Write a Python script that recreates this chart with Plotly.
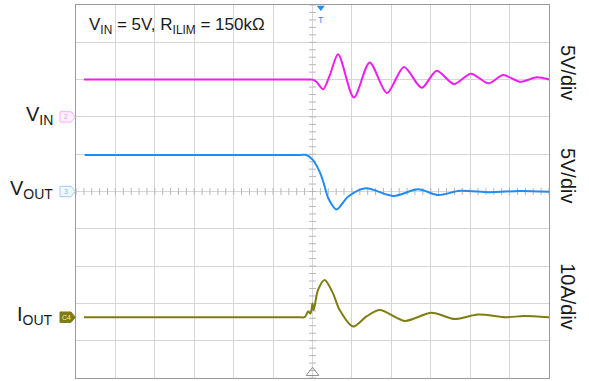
import plotly.graph_objects as go

# ---- data (time in divisions, values in physical units) ----
vin_t = [-5.80, -4.0, -2.0, -0.5, -0.2, 0.00, 0.10, 0.27, 0.44, 0.65, 1.05, 1.45, 1.89, 2.32, 2.77, 3.15, 3.59, 4.02, 4.46, 4.84, 5.26, 5.69, 6.00]
vin_v = [5.0, 5.0, 5.0, 5.0, 5.0, 5.0, 4.7, 3.7, 5.6, 8.4, 2.6, 7.3, 3.2, 6.7, 3.9, 6.2, 4.4, 5.8, 4.5, 5.6, 4.7, 5.3, 5.0]

vout_t = [-5.78, -4.0, -2.0, -0.6, -0.3, -0.15, 0.015, 0.14, 0.23, 0.31, 0.40, 0.61, 0.90, 1.35, 2.06, 2.68, 3.19, 3.74, 4.50, 5.26, 6.00]
vout_v = [4.9, 4.9, 4.9, 4.9, 4.9, 4.9, 4.2, 3.1, 2.0, 0.64, -0.9, -2.4, -0.7, 0.43, -0.6, 0.3, -0.47, 0.1, -0.1, 0.07, -0.05]

iout_t = [-5.80, -4.0, -2.0, -0.6, -0.35, -0.20, -0.11, -0.05, 0.00, 0.03, 0.14, 0.31, 0.52, 0.69, 1.03, 1.37, 1.71, 2.34, 3.02, 3.61, 4.20, 4.92, 5.35, 6.00]
iout_a = [0.0, 0.0, 0.0, 0.0, 0.0, 0.0, 1.5, 1.0, 3.7, 1.9, 7.3, 10.0, 6.4, 1.9, -2.5, 0.2, 1.9, -1.0, 1.2, -0.5, 0.7, 0.0, 0.3, 0.0]

# channel settings: (offset in div, units per div)
vin_off, vin_scale = 2.0, 5.0
vout_off, vout_scale = 0.0, 5.0
iout_off, iout_scale = -3.37, 10.0

MAG = "#f01cf0"
BLU = "#1f8cf5"
OLV = "#7d7d12"

fig = go.Figure()

def to_div(vals, off, sc):
    return [off + v / sc for v in vals]

# center minor ticks
ticks = [i * 0.2 for i in range(-30, 31)]
fig.add_trace(go.Scatter(x=ticks, y=[0] * len(ticks), mode="markers",
                         marker=dict(symbol="line-ns", size=5, line=dict(color="#b8b8b8", width=1)),
                         hoverinfo="skip", showlegend=False))
yt = [i * 0.2 for i in range(-25, 26)]
fig.add_trace(go.Scatter(x=[0] * len(yt), y=yt, mode="markers",
                         marker=dict(symbol="line-ew", size=5, line=dict(color="#b8b8b8", width=1)),
                         hoverinfo="skip", showlegend=False))

fig.add_trace(go.Scatter(x=vin_t, y=to_div(vin_v, vin_off, vin_scale), mode="lines",
                         line=dict(color=MAG, width=2, shape="spline", smoothing=0.8), showlegend=False))
fig.add_trace(go.Scatter(x=vout_t, y=to_div(vout_v, vout_off, vout_scale), mode="lines",
                         line=dict(color=BLU, width=2, shape="spline", smoothing=0.8), showlegend=False))
fig.add_trace(go.Scatter(x=iout_t, y=to_div(iout_a, iout_off, iout_scale), mode="lines",
                         line=dict(color=OLV, width=2, shape="spline", smoothing=0.8), showlegend=False))

# trigger markers
fig.add_trace(go.Scatter(x=[0.21], y=[4.93], mode="markers",
                         marker=dict(symbol="triangle-down", size=7, color=BLU),
                         cliponaxis=False, showlegend=False))
fig.add_trace(go.Scatter(x=[0.0], y=[-4.86], mode="markers",
                         marker=dict(symbol="triangle-up-open", size=11, color="#909090", line=dict(width=1)),
                         cliponaxis=False, showlegend=False))
fig.add_trace(go.Scatter(x=[6.07], y=[0.53], mode="markers",
                         marker=dict(symbol="triangle-left", size=7, color=BLU),
                         cliponaxis=False, showlegend=False))

shapes = [
    dict(type="line", xref="x", yref="y", x0=-6, x1=6, y0=0, y1=0,
         line=dict(color="#c4c4c4", width=1, dash="dot"), layer="below"),
    dict(type="line", xref="x", yref="y", x0=0, x1=0, y0=-5, y1=5,
         line=dict(color="#c4c4c4", width=1, dash="dot"), layer="below"),
]

def tag(yc, line_c, fill_c):
    h = 0.14
    x0, x1, x2 = -0.0338, -0.0106, -0.0015
    return dict(type="path", xref="paper", yref="y",
                path=f"M {x0},{yc+h} L {x1},{yc+h} L {x2},{yc} L {x1},{yc-h} L {x0},{yc-h} Z",
                line=dict(color=line_c, width=1), fillcolor=fill_c, layer="above")

shapes.append(tag(vin_off, "#ffa8ff", "#fff2ff"))
shapes.append(tag(vout_off, "#9ccaff", "#f2f8ff"))
shapes.append(tag(iout_off, OLV, OLV))

annotations = [
    dict(text="V<sub>IN</sub> = 5V, R<sub>ILIM</sub> = 150kΩ", xref="paper", yref="y",
         x=0.024, y=4.45, xanchor="left", yanchor="middle", showarrow=False,
         font=dict(size=17, color="#1a1a1a")),
    dict(text="V<sub>IN</sub>", xref="paper", yref="y", x=-0.044, y=vin_off + 0.05,
         xanchor="right", yanchor="middle", showarrow=False, font=dict(size=20, color="#1a1a1a")),
    dict(text="V<sub>OUT</sub>", xref="paper", yref="y", x=-0.044, y=vout_off + 0.05,
         xanchor="right", yanchor="middle", showarrow=False, font=dict(size=20, color="#1a1a1a")),
    dict(text="I<sub>OUT</sub>", xref="paper", yref="y", x=-0.044, y=iout_off + 0.05,
         xanchor="right", yanchor="middle", showarrow=False, font=dict(size=20, color="#1a1a1a")),
    dict(text="2", xref="paper", yref="y", x=-0.021, y=vin_off, xanchor="center", yanchor="middle",
         showarrow=False, font=dict(size=7, color="#ff90ff")),
    dict(text="3", xref="paper", yref="y", x=-0.021, y=vout_off, xanchor="center", yanchor="middle",
         showarrow=False, font=dict(size=7, color="#7ab8ff")),
    dict(text="C4", xref="paper", yref="y", x=-0.021, y=iout_off, xanchor="center", yanchor="middle",
         showarrow=False, font=dict(size=7, color="#f0f0c0")),
    dict(text="T", xref="x", yref="y", x=0.21, y=4.6, xanchor="center", yanchor="middle",
         showarrow=False, font=dict(size=9, color=BLU)),
    dict(text="5V/div", xref="paper", yref="y", x=1.040, y=3.18, textangle=90,
         xanchor="center", yanchor="middle", showarrow=False, font=dict(size=20, color="#1a1a1a")),
    dict(text="5V/div", xref="paper", yref="y", x=1.040, y=0.42, textangle=90,
         xanchor="center", yanchor="middle", showarrow=False, font=dict(size=20, color="#1a1a1a")),
    dict(text="10A/div", xref="paper", yref="y", x=1.040, y=-2.83, textangle=90,
         xanchor="center", yanchor="middle", showarrow=False, font=dict(size=20, color="#1a1a1a")),
]

fig.update_layout(
    width=589, height=381,
    margin=dict(l=76, r=40, t=5, b=3),
    paper_bgcolor="white", plot_bgcolor="white",
    font=dict(family="Arial, Liberation Sans, sans-serif"),
    shapes=shapes, annotations=annotations,
    xaxis=dict(range=[-6, 6], dtick=1, tick0=0, showgrid=True, gridcolor="#d6d6d6", gridwidth=1,
               zeroline=False, showticklabels=False, ticks="", showline=True, linecolor="#9a9a9a",
               linewidth=1, mirror=True, fixedrange=True),
    yaxis=dict(range=[-5, 5], dtick=1, tick0=0, showgrid=True, gridcolor="#d6d6d6", gridwidth=1,
               zeroline=False, showticklabels=False, ticks="", showline=True, linecolor="#9a9a9a",
               linewidth=1, mirror=True, fixedrange=True),
)

fig.write_html("out.html", config={"displayModeBar": False},
               post_script="document.body.style.margin='0';document.body.style.overflow='hidden';")
